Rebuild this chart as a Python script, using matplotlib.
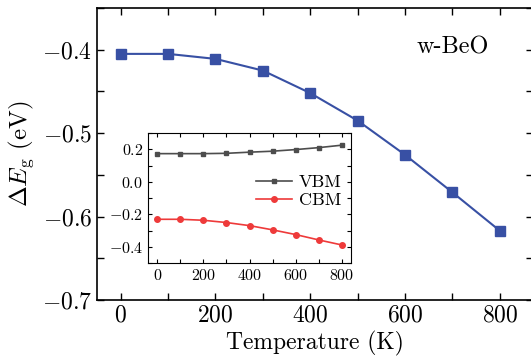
import matplotlib
matplotlib.use("Agg")
import matplotlib.pyplot as plt
from matplotlib.ticker import MultipleLocator

plt.rcParams["font.family"] = "serif"
plt.rcParams["font.serif"] = ["cmr10", "DejaVu Serif"]
plt.rcParams["mathtext.fontset"] = "cm"
plt.rcParams["axes.formatter.use_mathtext"] = True

temperature = [0, 100, 200, 300, 400, 500, 600, 700, 800]
delta_eg = [-0.405, -0.405, -0.411, -0.425, -0.452, -0.485, -0.526, -0.571, -0.617]
vbm = [0.173, 0.173, 0.173, 0.175, 0.182, 0.188, 0.198, 0.210, 0.225]
cbm = [-0.231, -0.231, -0.237, -0.251, -0.270, -0.296, -0.325, -0.358, -0.389]

fig = plt.figure(figsize=(5.31, 3.59), dpi=100)
ax = fig.add_axes([97 / 531, 1 - 300 / 359, 436 / 531, 292 / 359])

ax.plot(temperature, delta_eg, color="#3850a4", lw=1.5, marker="s", ms=6.5,
        mec="#3850a4", mfc="#3850a4")
ax.set_xlim(-50, 870)
ax.set_ylim(-0.7, -0.35)
ax.xaxis.set_major_locator(MultipleLocator(200))
ax.xaxis.set_minor_locator(MultipleLocator(100))
ax.yaxis.set_major_locator(MultipleLocator(0.1))
ax.yaxis.set_minor_locator(MultipleLocator(0.05))
ax.tick_params(which="both", direction="in", top=True, right=True, labelsize=17)
ax.tick_params(which="both", length=5, width=1)
ax.set_yticks([-0.4, -0.5, -0.6, -0.7])
ax.set_xlabel("Temperature (K)", fontsize=17, labelpad=3)
ax.set_ylabel(r"$\Delta E_{\rm g}$ (eV)", fontsize=18, labelpad=4)
for s in ax.spines.values():
    s.set_linewidth(1.2)
ax.text(0.734, 0.866, "w-BeO", transform=ax.transAxes, fontsize=17.5, va="center")

ins = fig.add_axes([148 / 531, 1 - 263 / 359, 203 / 531, 130 / 359])
ins.plot(temperature, vbm, color="#4d4d4d", lw=1.2, marker="s", ms=3.5, label="VBM")
ins.plot(temperature, cbm, color="#ee3a3a", lw=1.2, marker="o", ms=4, label="CBM")
ins.set_xlim(-40, 840)
ins.set_ylim(-0.5, 0.3)
ins.xaxis.set_major_locator(MultipleLocator(200))
ins.xaxis.set_minor_locator(MultipleLocator(100))
ins.yaxis.set_major_locator(MultipleLocator(0.2))
ins.yaxis.set_minor_locator(MultipleLocator(0.1))
ins.tick_params(which="both", direction="in", top=True, right=True, labelsize=11.5,
                length=3, width=0.8)
ins.legend(loc="center right", bbox_to_anchor=(1.035, 0.55), frameon=False,
           fontsize=13, handlelength=2.0, handletextpad=0.4, labelspacing=0.15)

fig.savefig("out.png", dpi=100)
